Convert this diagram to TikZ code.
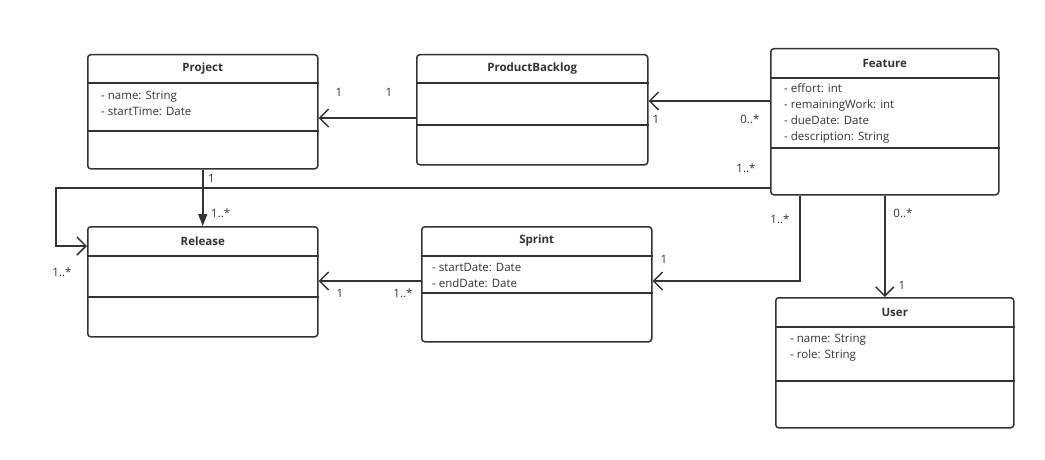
\documentclass[tikz,border=0pt]{standalone}
\usepackage{fontspec}
\setmainfont{Open Sans}
\usetikzlibrary{arrows.meta,calc}
\definecolor{ink}{HTML}{333333}
\tikzset{
  umlbox/.style={draw=ink, line width=1.5pt, rounded corners=3pt, inner sep=0pt, anchor=north west, fill=white},
  umlline/.style={draw=ink, line width=1.5pt},
  umltitle/.style={font=\fontsize{11.5}{13}\selectfont\bfseries, text=ink, inner sep=0pt},
  attr/.style={font=\fontsize{11.5}{16}\selectfont, text=ink, inner sep=0pt, anchor=north west, align=left},
  lbl/.style={font=\fontsize{11.5}{13}\selectfont, text=ink, inner sep=0pt},
  conn/.style={draw=ink, line width=1.5pt},
  openarr/.style={conn, -{Straight Barb[length=9pt,width=18pt,line width=1.5pt]}},
  filledarr/.style={conn, -{Triangle[length=12pt,width=9pt]}},
}
% name, x, y, w, h, line1 offset, line2 offset, title
\newcommand{\umlclass}[8]{%
  \node[umlbox, minimum width=#4pt, minimum height=#5pt] (#1) at (#2,#3) {};
  \draw[umlline] ($(#1.north west)+(0,#6)$) -- ($(#1.north east)+(0,#6)$);
  \draw[umlline] ($(#1.north west)+(0,#7)$) -- ($(#1.north east)+(0,#7)$);
  \node[umltitle] (#1-title) at ($(#1.north)+(0,#6/2)$) {#8};
}
\begin{document}
\begin{tikzpicture}[x=1pt,y=-1pt]
\fill[white] (0,0) rectangle (1045,460);
\useasboundingbox (0,0) rectangle (1045,460);

\umlclass{proj}{87}{54}{230}{114}{29}{77}{Project}
\umlclass{pb}{416}{54}{231}{110}{29}{71}{ProductBacklog}
\umlclass{feat}{770}{48}{228}{146}{30}{100}{Feature}
\umlclass{rel}{87}{226}{230}{110}{30}{71}{Release}
\umlclass{spr}{421}{226}{230}{115}{30}{67}{Sprint}
\umlclass{user}{775}{297}{238}{130}{30}{84}{User}

\node[attr] (proj-attr) at (101,90.5) {- name: String\\- startTime: Date};
\node[attr] (feat-attr) at (784,84) {- effort: int\\- remainingWork: int\\- dueDate: Date\\- description: String};
\node[attr] (spr-attr) at (432,263) {- startDate: Date\\- endDate: Date};
\node[attr] (user-attr) at (790,334) {- name: String\\- role: String};

% connectors
\draw[openarr] (pb.west |- 0,118) -- (proj.east |- 0,118);
\draw[openarr] (feat.west |- 0,101) -- (pb.east |- 0,101);
\coordinate (bendL) at (56,188);
\draw[openarr] (feat.west |- 0,188) -- (bendL) |- (rel.west |- 0,246);
\draw[filledarr] (proj.south) -- (rel.north);
\draw[openarr] (spr.west |- 0,281) -- (rel.east |- 0,281);
\coordinate (bendS) at (800,281);
\draw[openarr] (feat.south -| bendS) -- (bendS) -- (spr.east |- bendS);
\draw[openarr] (feat.south) -- (feat.south |- user.north);

% multiplicities
\node[lbl] (m1) at (339,92) {1};
\node[lbl] (m2) at (389,92) {1};
\node[lbl] (m3) at (656,119) {1};
\node[lbl] (m4) at (750,119) {0..*};
\node[lbl] (m5) at (746,168) {1..*};
\node[lbl] (m6) at (62,272) {1..*};
\node[lbl, anchor=west] (m7) at (208,178) {1};
\node[lbl, anchor=west] (m8) at (211,213) {1..*};
\node[lbl] (m9) at (340,293) {1};
\node[lbl] (m10) at (403,293) {1..*};
\node[lbl] (m11) at (780,219) {1..*};
\node[lbl] (m12) at (664,259) {1};
\node[lbl] (m13) at (903,213) {0..*};
\node[lbl] (m14) at (902,285) {1};
\end{tikzpicture}
\end{document}
